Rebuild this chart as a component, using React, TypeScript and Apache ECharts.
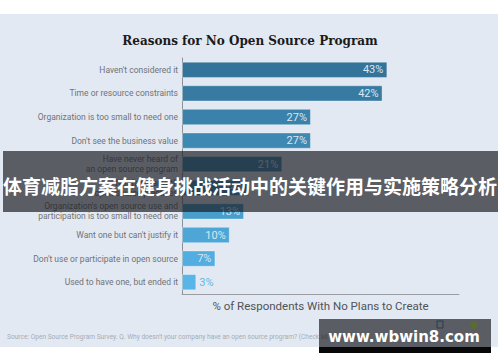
import React, { useEffect, useRef } from "react";
import * as echarts from "echarts";

const categories = [
  "Haven't considered it",
  "Time or resource constraints",
  "Organization is too small to need one",
  "Don't see the business value",
  "Have never heard of\nan open source program",
  "Not familiar with\nopen source practices",
  "Organization's open source use and\nparticipation is too small to need one",
  "Want one but can't justify it",
  "Don't use or participate in open source",
  "Used to have one, but ended it",
];
const values = [43, 42, 27, 27, 21, 14, 13, 10, 7, 3];
const barColors = [
  "#34739a",
  "#377ba3",
  "#3a82ab",
  "#3e89b3",
  "#418fbb",
  "#4596c3",
  "#499ecb",
  "#4ea6d6",
  "#52ade0",
  "#57b5e8",
];

const titleText = "Reasons for No Open Source Program";
const axisName = "% of Respondents With No Plans to Create";
const sourceText =
  "Source: Open Source Program Survey. Q. Why doesn't your company have an open source program? (Check all that apply)";
const bannerText = "体育减脂方案在健身挑战活动中的关键作用与实施策略分析";
const watermarkText = "www.wbwin8.com";

export default function App() {
  const ref = useRef<HTMLDivElement>(null);
  useEffect(() => {
    document.body.style.margin = "0";
    const chart = echarts.init(ref.current!, null, { renderer: "svg" });
    chart.setOption({
      animation: false,
      backgroundColor: "#ffffff",
      title: {
        text: titleText,
        left: "center",
        top: 30,
        textStyle: {
          fontFamily: "DejaVu Serif",
          fontWeight: "bold",
          fontSize: 12,
          color: "#1b1b1b",
        },
      },
      grid: { left: 182, right: 41, top: 58, bottom: 68 },
      xAxis: {
        type: "value",
        min: 0,
        max: 58,
        axisLabel: { show: false },
        axisTick: { show: false },
        splitLine: { show: false },
        axisLine: { show: true, lineStyle: { color: "#9a9ea4", width: 1 } },
        name: axisName,
        nameLocation: "middle",
        nameGap: 6,
        nameTextStyle: {
          fontFamily: "Roboto",
          fontSize: 11.5,
          color: "#505357",
          verticalAlign: "top",
        },
      },
      yAxis: {
        type: "category",
        inverse: true,
        data: categories,
        axisTick: { show: false },
        axisLine: { show: true, lineStyle: { color: "#8d9196", width: 1 } },
        axisLabel: {
          fontFamily: "Roboto",
          fontSize: 8.5,
          lineHeight: 10,
          color: "#707378",
          margin: 4,
        },
      },
      series: [
        {
          type: "bar",
          barCategoryGap: "31%",
          z: 3,
          data: values.map((v, i) => ({
            value: v,
            itemStyle: {
              color: barColors[i],
              borderColor: "rgba(255,255,255,0.35)",
              borderWidth: 1,
            },
            label:
              v < 5
                ? { position: "right", distance: 3, color: "#5cb8ea" }
                : { position: "insideRight", distance: 4, color: "#d9e7f1" },
          })),
          label: {
            show: true,
            formatter: "{c}%",
            fontFamily: "Roboto",
            fontSize: 11,
          },
        },
      ],
      graphic: [
        {
          type: "rect",
          z: -10,
          silent: true,
          shape: { x: 0, y: 14, width: 498, height: 333 },
          style: { fill: "#e3e9f2" },
        },
        {
          type: "text",
          z: 5,
          silent: true,
          x: 7,
          y: 337,
          style: {
            text: sourceText,
            fontFamily: "Roboto",
            fontSize: 6.6,
            fill: "#a6acb4",
            verticalAlign: "middle",
          },
        },
        {
          type: "rect",
          z: 100,
          silent: true,
          shape: { x: 3, y: 151, width: 495, height: 61 },
          style: { fill: "rgba(25,27,32,0.68)" },
        },
        {
          type: "text",
          z: 101,
          silent: true,
          x: 250,
          y: 185,
          style: {
            text: bannerText,
            fontFamily: "Noto Sans CJK SC",
            fontWeight: "bold",
            fontSize: 19,
            fill: "#ffffff",
            align: "center",
            verticalAlign: "middle",
          },
        },
        {
          type: "rect",
          z: 100,
          silent: true,
          shape: { x: 319, y: 319, width: 172, height: 28 },
          style: { fill: "rgba(25,27,32,0.68)" },
        },
        {
          type: "rect",
          z: 100,
          silent: true,
          shape: { x: 319, y: 347, width: 172, height: 6 },
          style: { fill: "#080808" },
        },
        {
          type: "rect",
          z: 101,
          silent: true,
          shape: { x: 437, y: 321, width: 6, height: 7 },
          style: { fill: "none", stroke: "#2b3a55", lineWidth: 1 },
        },
        {
          type: "circle",
          z: 101,
          silent: true,
          shape: { cx: 474, cy: 325, r: 4 },
          style: { fill: "#5c6a35" },
        },
        {
          type: "text",
          z: 102,
          silent: true,
          x: 404,
          y: 337,
          style: {
            text: watermarkText,
            fontFamily: "DejaVu Sans",
            fontWeight: "bold",
            fontSize: 15,
            fill: "#ffffff",
            align: "center",
            verticalAlign: "middle",
          },
        },
      ],
    });
    return () => chart.dispose();
  }, []);
  return <div ref={ref} style={{ width: 500, height: 362 }} />;
}
